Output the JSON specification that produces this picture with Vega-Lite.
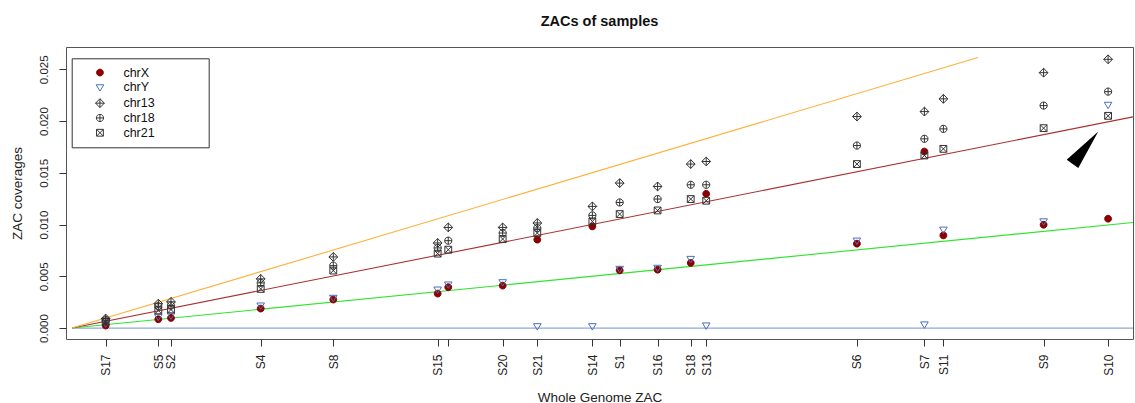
{
  "$schema": "https://vega.github.io/schema/vega-lite/v6.json",
  "width": 1067,
  "height": 292,
  "autosize": {"type": "none"},
  "padding": {"left": 66, "top": 47, "right": 2, "bottom": 64},
  "background": "white",
  "config": {
    "font": "Liberation Sans",
    "view": {"stroke": "#555", "strokeWidth": 1},
    "axis": {"grid": false, "domain": false, "tickColor": "#333", "tickSize": 7, "labelColor": "#222", "titleColor": "#222", "titleFontWeight": "normal", "labelFont": "Liberation Sans", "titleFont": "Liberation Sans"},
    "legend": {
      "orient": "none", "legendX": 5.7, "legendY": 11.3,
      "strokeColor": "#333", "fillColor": "white", "padding": 8, "cornerRadius": 0,
      "symbolOffset": 14, "labelOffset": 17.2, "symbolSize": 64, "symbolStrokeWidth": 1,
      "rowPadding": 1.8, "labelFontSize": 12.5, "labelColor": "#111", "labelLimit": 200
    }
  },
  "title": {"text": "ZACs of samples", "fontSize": 14.5, "fontWeight": "bold", "anchor": "middle", "frame": "group", "baseline": "middle", "offset": 11, "color": "#111"},
  "datasets": {
    "refs": [
      {"ref": "zero", "wg": 0, "v": 0}, {"ref": "zero", "wg": 0.020403, "v": 0},
      {"ref": "half", "wg": 0, "v": 0}, {"ref": "half", "wg": 0.020403, "v": 0.0102015},
      {"ref": "one", "wg": 0, "v": 0}, {"ref": "one", "wg": 0.020403, "v": 0.020403},
      {"ref": "onehalf", "wg": 0, "v": 0}, {"ref": "onehalf", "wg": 0.017422, "v": 0.026133}
    ],
    "arrow": [{"wg": 0.019403, "v": 0.016927}],
    "points": [
      {"s": "S17", "chr": "chrX", "wg": 0.000648, "v": 0.00024},
      {"s": "S17", "chr": "chrY", "wg": 0.000648, "v": 0.00043},
      {"s": "S17", "chr": "chr13", "wg": 0.000648, "v": 0.00092},
      {"s": "S17", "chr": "chr18", "wg": 0.000648, "v": 0.00077},
      {"s": "S17", "chr": "chr21", "wg": 0.000648, "v": 0.00063},
      {"s": "S5", "chr": "chrX", "wg": 0.00166, "v": 0.00085},
      {"s": "S5", "chr": "chrY", "wg": 0.00166, "v": 0.00108},
      {"s": "S5", "chr": "chr13", "wg": 0.00166, "v": 0.00235},
      {"s": "S5", "chr": "chr18", "wg": 0.00166, "v": 0.0021},
      {"s": "S5", "chr": "chr21", "wg": 0.00166, "v": 0.0017},
      {"s": "S2", "chr": "chrX", "wg": 0.001904, "v": 0.00098},
      {"s": "S2", "chr": "chrY", "wg": 0.001904, "v": 0.0012},
      {"s": "S2", "chr": "chr13", "wg": 0.001904, "v": 0.00253},
      {"s": "S2", "chr": "chr18", "wg": 0.001904, "v": 0.00217},
      {"s": "S2", "chr": "chr21", "wg": 0.001904, "v": 0.00178},
      {"s": "S4", "chr": "chrX", "wg": 0.003629, "v": 0.00188},
      {"s": "S4", "chr": "chrY", "wg": 0.003629, "v": 0.00217},
      {"s": "S4", "chr": "chr13", "wg": 0.003629, "v": 0.00475},
      {"s": "S4", "chr": "chr18", "wg": 0.003629, "v": 0.00436},
      {"s": "S4", "chr": "chr21", "wg": 0.003629, "v": 0.00378},
      {"s": "S8", "chr": "chrX", "wg": 0.005025, "v": 0.00275},
      {"s": "S8", "chr": "chrY", "wg": 0.005025, "v": 0.00291},
      {"s": "S8", "chr": "chr13", "wg": 0.005025, "v": 0.00687},
      {"s": "S8", "chr": "chr18", "wg": 0.005025, "v": 0.00603},
      {"s": "S8", "chr": "chr21", "wg": 0.005025, "v": 0.00555},
      {"s": "S15", "chr": "chrX", "wg": 0.007032, "v": 0.00333},
      {"s": "S15", "chr": "chrY", "wg": 0.007032, "v": 0.00371},
      {"s": "S15", "chr": "chr13", "wg": 0.007032, "v": 0.00822},
      {"s": "S15", "chr": "chr18", "wg": 0.007032, "v": 0.00774},
      {"s": "S15", "chr": "chr21", "wg": 0.007032, "v": 0.00719},
      {"s": "S19", "chr": "chrX", "wg": 0.007236, "v": 0.00394},
      {"s": "S19", "chr": "chrY", "wg": 0.007236, "v": 0.0042},
      {"s": "S19", "chr": "chr13", "wg": 0.007236, "v": 0.00972},
      {"s": "S19", "chr": "chr18", "wg": 0.007236, "v": 0.00844},
      {"s": "S19", "chr": "chr21", "wg": 0.007236, "v": 0.00757},
      {"s": "S20", "chr": "chrX", "wg": 0.008282, "v": 0.0041},
      {"s": "S20", "chr": "chrY", "wg": 0.008282, "v": 0.00442},
      {"s": "S20", "chr": "chr13", "wg": 0.008282, "v": 0.00972},
      {"s": "S20", "chr": "chr18", "wg": 0.008282, "v": 0.00918},
      {"s": "S20", "chr": "chr21", "wg": 0.008282, "v": 0.0086},
      {"s": "S21", "chr": "chrX", "wg": 0.008948, "v": 0.00854},
      {"s": "S21", "chr": "chrY", "wg": 0.008948, "v": 0.00017},
      {"s": "S21", "chr": "chr13", "wg": 0.008948, "v": 0.01015},
      {"s": "S21", "chr": "chr18", "wg": 0.008948, "v": 0.00966},
      {"s": "S21", "chr": "chr21", "wg": 0.008948, "v": 0.00918},
      {"s": "S14", "chr": "chrX", "wg": 0.010007, "v": 0.00982},
      {"s": "S14", "chr": "chrY", "wg": 0.010007, "v": 0.00017},
      {"s": "S14", "chr": "chr13", "wg": 0.010007, "v": 0.01175},
      {"s": "S14", "chr": "chr18", "wg": 0.010007, "v": 0.01088},
      {"s": "S14", "chr": "chr21", "wg": 0.010007, "v": 0.0103},
      {"s": "S1", "chr": "chrX", "wg": 0.010532, "v": 0.00557},
      {"s": "S1", "chr": "chrY", "wg": 0.010532, "v": 0.00571},
      {"s": "S1", "chr": "chr13", "wg": 0.010532, "v": 0.014},
      {"s": "S1", "chr": "chr18", "wg": 0.010532, "v": 0.01213},
      {"s": "S1", "chr": "chr21", "wg": 0.010532, "v": 0.01101},
      {"s": "S16", "chr": "chrX", "wg": 0.011261, "v": 0.00564},
      {"s": "S16", "chr": "chrY", "wg": 0.011261, "v": 0.00581},
      {"s": "S16", "chr": "chr13", "wg": 0.011261, "v": 0.01368},
      {"s": "S16", "chr": "chr18", "wg": 0.011261, "v": 0.01246},
      {"s": "S16", "chr": "chr21", "wg": 0.011261, "v": 0.01136},
      {"s": "S18", "chr": "chrX", "wg": 0.011898, "v": 0.00629},
      {"s": "S18", "chr": "chrY", "wg": 0.011898, "v": 0.00667},
      {"s": "S18", "chr": "chr13", "wg": 0.011898, "v": 0.01584},
      {"s": "S18", "chr": "chr18", "wg": 0.011898, "v": 0.01384},
      {"s": "S18", "chr": "chr21", "wg": 0.011898, "v": 0.01246},
      {"s": "S13", "chr": "chrX", "wg": 0.012196, "v": 0.01297},
      {"s": "S13", "chr": "chrY", "wg": 0.012196, "v": 0.00024},
      {"s": "S13", "chr": "chr13", "wg": 0.012196, "v": 0.01609},
      {"s": "S13", "chr": "chr18", "wg": 0.012196, "v": 0.01384},
      {"s": "S13", "chr": "chr21", "wg": 0.012196, "v": 0.0123},
      {"s": "S6", "chr": "chrX", "wg": 0.015094, "v": 0.00815},
      {"s": "S6", "chr": "chrY", "wg": 0.015094, "v": 0.00844},
      {"s": "S6", "chr": "chr13", "wg": 0.015094, "v": 0.02043},
      {"s": "S6", "chr": "chr18", "wg": 0.015094, "v": 0.01763},
      {"s": "S6", "chr": "chr21", "wg": 0.015094, "v": 0.01584},
      {"s": "S7", "chr": "chrX", "wg": 0.016392, "v": 0.01705},
      {"s": "S7", "chr": "chrY", "wg": 0.016392, "v": 0.00034},
      {"s": "S7", "chr": "chr13", "wg": 0.016392, "v": 0.02091},
      {"s": "S7", "chr": "chr18", "wg": 0.016392, "v": 0.01828},
      {"s": "S7", "chr": "chr21", "wg": 0.016392, "v": 0.01667},
      {"s": "S11", "chr": "chrX", "wg": 0.016757, "v": 0.00895},
      {"s": "S11", "chr": "chrY", "wg": 0.016757, "v": 0.0095},
      {"s": "S11", "chr": "chr13", "wg": 0.016757, "v": 0.02214},
      {"s": "S11", "chr": "chr18", "wg": 0.016757, "v": 0.01924},
      {"s": "S11", "chr": "chr21", "wg": 0.016757, "v": 0.01731},
      {"s": "S9", "chr": "chrX", "wg": 0.018684, "v": 0.00998},
      {"s": "S9", "chr": "chrY", "wg": 0.018684, "v": 0.0103},
      {"s": "S9", "chr": "chr13", "wg": 0.018684, "v": 0.02467},
      {"s": "S9", "chr": "chr18", "wg": 0.018684, "v": 0.02149},
      {"s": "S9", "chr": "chr21", "wg": 0.018684, "v": 0.01931},
      {"s": "S10", "chr": "chrX", "wg": 0.019924, "v": 0.01056},
      {"s": "S10", "chr": "chrY", "wg": 0.019924, "v": 0.02156},
      {"s": "S10", "chr": "chr13", "wg": 0.019924, "v": 0.02596},
      {"s": "S10", "chr": "chr18", "wg": 0.019924, "v": 0.02284},
      {"s": "S10", "chr": "chr21", "wg": 0.019924, "v": 0.0205}
    ]
  },
  "encoding": {
    "x": {
      "field": "wg", "type": "quantitative",
      "scale": {"domain": [-0.000115, 0.020403], "nice": false, "zero": false},
      "axis": {
        "title": "Whole Genome ZAC",
        "values": [0.000648, 0.00166, 0.001904, 0.003629, 0.005025, 0.007032, 0.007236, 0.008282, 0.008948, 0.010007, 0.010532, 0.011261, 0.011898, 0.012196, 0.015094, 0.016392, 0.016757, 0.018684, 0.019924],
        "labelExpr": "['S17','S5','S2','S4','S8','S15','','S20','S21','S14','S1','S16','S18','S13','S6','S7','S11','S9','S10'][indexof([0.000648, 0.00166, 0.001904, 0.003629, 0.005025, 0.007032, 0.007236, 0.008282, 0.008948, 0.010007, 0.010532, 0.011261, 0.011898, 0.012196, 0.015094, 0.016392, 0.016757, 0.018684, 0.019924], datum.value)]",
        "labelAngle": -90, "labelAlign": "right", "labelBaseline": "middle",
        "labelPadding": 8, "labelFontSize": 12, "labelOverlap": false, "labelFlush": false, "labelBound": false,
        "titleFontSize": 13.5, "titleBaseline": "middle", "titleY": 58
      }
    },
    "y": {
      "field": "v", "type": "quantitative",
      "scale": {"domain": [-0.00106, 0.02715], "nice": false, "zero": false},
      "axis": {
        "title": "ZAC coverages",
        "values": [0, 0.005, 0.01, 0.015, 0.02, 0.025],
        "format": ".3f",
        "labelAngle": -90, "labelAlign": "center", "labelBaseline": "bottom",
        "labelPadding": 10, "labelFontSize": 11.5, "labelOverlap": false, "labelFlush": false, "labelBound": false,
        "titleFontSize": 13.5, "titleAngle": -90, "titleBaseline": "middle", "titleAlign": "center", "titleX": -49, "titleY": 146
      }
    }
  },
  "layer": [
    {
      "data": {"name": "refs"},
      "transform": [{"filter": "datum.ref === 'zero'"}],
      "mark": {"type": "line", "color": "#8FA7D9", "strokeWidth": 1.3, "clip": true},
      "encoding": {}
    },
    {
      "data": {"name": "refs"},
      "transform": [{"filter": "datum.ref === 'half'"}],
      "mark": {"type": "line", "color": "#2EE62E", "strokeWidth": 1.1, "clip": true},
      "encoding": {}
    },
    {
      "data": {"name": "refs"},
      "transform": [{"filter": "datum.ref === 'one'"}],
      "mark": {"type": "line", "color": "#A83232", "strokeWidth": 1.1, "clip": true},
      "encoding": {}
    },
    {
      "data": {"name": "refs"},
      "transform": [{"filter": "datum.ref === 'onehalf'"}],
      "mark": {"type": "line", "color": "#FFB03A", "strokeWidth": 1.1, "clip": true},
      "encoding": {}
    },
    {
      "data": {"name": "points"},
      "mark": {"type": "point", "size": 64, "strokeWidth": 1, "opacity": 1, "filled": false},
      "encoding": {
        "shape": {
          "field": "chr", "type": "nominal",
          "scale": {
            "domain": ["chrX", "chrY", "chr13", "chr18", "chr21"],
            "range": [
              "M0.85,0A0.85,0.85,0,1,1,-0.85,0A0.85,0.85,0,1,1,0.85,0Z",
              "M-0.95,-0.65L0.95,-0.65L0,0.95Z",
              "M0,-1.1L1.1,0L0,1.1L-1.1,0Z M0,-1.1L0,1.1 M-1.1,0L1.1,0",
              "M0.9,0A0.9,0.9,0,1,1,-0.9,0A0.9,0.9,0,1,1,0.9,0Z M-0.9,0L0.9,0 M0,-0.9L0,0.9",
              "M-0.85,-0.85L0.85,-0.85L0.85,0.85L-0.85,0.85Z M-0.85,-0.85L0.85,0.85 M-0.85,0.85L0.85,-0.85"
            ]
          },
          "legend": {
            "title": null,
            "labelExpr": "datum.label + '\u00a0\u00a0\u00a0\u00a0\u00a0\u00a0\u00a0\u00a0\u00a0\u00a0\u00a0\u00a0\u00a0\u200b'"
          }
        },
        "stroke": {
          "field": "chr", "type": "nominal",
          "scale": {"domain": ["chrX", "chrY", "chr13", "chr18", "chr21"], "range": ["#8B0000", "#4A6FBF", "#333333", "#333333", "#333333"]},
          "legend": {
            "title": null,
            "labelExpr": "datum.label + '\u00a0\u00a0\u00a0\u00a0\u00a0\u00a0\u00a0\u00a0\u00a0\u00a0\u00a0\u00a0\u00a0\u200b'"
          }
        },
        "fill": {
          "field": "chr", "type": "nominal",
          "scale": {"domain": ["chrX", "chrY", "chr13", "chr18", "chr21"], "range": ["#8B0000", "transparent", "transparent", "transparent", "transparent"]},
          "legend": {
            "title": null,
            "labelExpr": "datum.label + '\u00a0\u00a0\u00a0\u00a0\u00a0\u00a0\u00a0\u00a0\u00a0\u00a0\u00a0\u00a0\u00a0\u200b'"
          }
        }
      }
    },
    {
      "data": {"name": "arrow"},
      "mark": {"type": "point", "shape": "M1.73,-2.13L-1.43,0.7L-0.27,1.53Z", "size": 400, "filled": true, "color": "black", "opacity": 1, "strokeWidth": 0}
    }
  ]
}
